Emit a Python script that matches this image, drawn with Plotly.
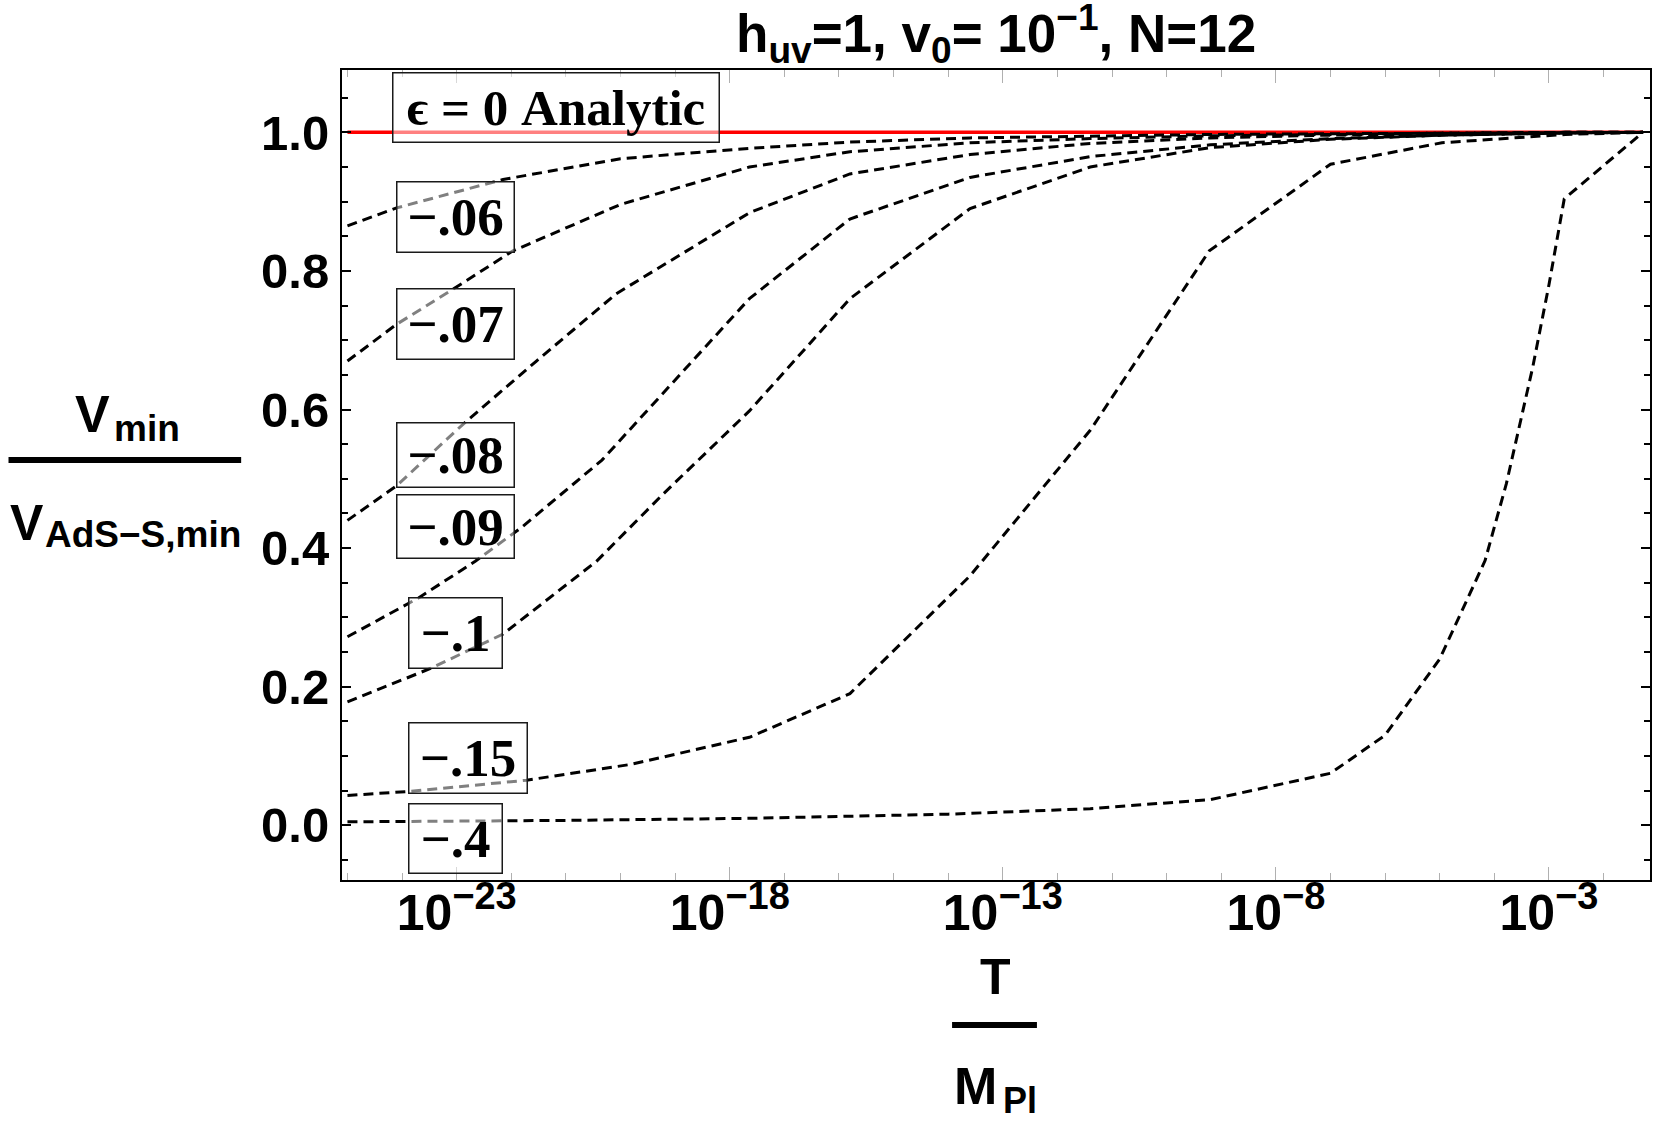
import plotly.graph_objects as go

# ---------------- data (log10(T/M_Pl), V_min/V_AdS-S,min) ----------------
logT_m006 = [-25.0, -24.1, -22.15, -20.0, -17.64, -15.8, -13.6, -11.4, -9.2, -7.0, -4.9, -2.7, -1.28]
v_m006 = [0.865, 0.891, 0.932, 0.962, 0.977, 0.986, 0.992, 0.995, 0.997, 0.998, 0.999, 1.0, 1.0]

logT_m007 = [-25.0, -24.1, -23.12, -21.97, -20.0, -17.64, -15.8, -13.6, -11.4, -9.2, -7.0, -4.9, -2.7, -1.28]
v_m007 = [0.670, 0.723, 0.771, 0.829, 0.896, 0.950, 0.972, 0.985, 0.991, 0.995, 0.997, 0.999, 1.0, 1.0]

logT_m008 = [-25.0, -24.1, -22.88, -21.54, -20.08, -17.64, -15.8, -13.6, -11.4, -9.2, -7.0, -4.9, -2.7, -1.28]
v_m008 = [0.440, 0.490, 0.579, 0.670, 0.767, 0.884, 0.940, 0.968, 0.984, 0.992, 0.996, 0.998, 1.0, 1.0]

logT_m009 = [-25.0, -23.7, -22.66, -21.81, -20.34, -18.75, -17.64, -15.8, -13.6, -11.4, -9.2, -7.0, -4.9, -2.7, -1.28]
v_m009 = [0.272, 0.328, 0.381, 0.430, 0.527, 0.665, 0.760, 0.875, 0.935, 0.965, 0.982, 0.991, 0.996, 0.999, 1.0]

logT_m010 = [-25.0, -23.49, -22.15, -20.44, -19.22, -17.64, -15.8, -13.6, -11.4, -9.2, -7.0, -4.9, -2.7, -1.28]
v_m010 = [0.178, 0.226, 0.276, 0.381, 0.478, 0.598, 0.760, 0.890, 0.950, 0.978, 0.990, 0.996, 0.999, 1.0]

logT_m015 = [-25.0, -23.85, -21.72, -19.8, -17.64, -15.8, -13.6, -11.4, -9.22, -7.0, -4.96, -2.7, -1.28]
v_m015 = [0.043, 0.049, 0.065, 0.088, 0.127, 0.190, 0.360, 0.570, 0.829, 0.954, 0.985, 0.997, 1.0]

logT_m040 = [-25.0, -21.0, -17.64, -14.0, -11.4, -9.2, -7.0, -6.0, -5.0, -4.17, -3.78, -3.3, -3.0, -2.72, -1.28]
v_m040 = [0.005, 0.007, 0.010, 0.016, 0.024, 0.037, 0.075, 0.130, 0.240, 0.382, 0.493, 0.660, 0.780, 0.904, 1.0]

logT_analytic = [-25.0, -1.28]
v_analytic = [1.0, 1.0]

curve_labels = ["\u2212.06", "\u2212.07", "\u2212.08", "\u2212.09", "\u2212.1", "\u2212.15", "\u2212.4"]
analytic_label = "\u03f5 = 0 Analytic"

x_tick_exponents = [-23, -18, -13, -8, -3]
x_tick_labels = ["10<sup><span style=\"font-size:38px\">\u221223</span></sup>",
                 "10<sup><span style=\"font-size:38px\">\u221218</span></sup>",
                 "10<sup><span style=\"font-size:38px\">\u221213</span></sup>",
                 "10<sup><span style=\"font-size:38px\">\u22128</span></sup>",
                 "10<sup><span style=\"font-size:38px\">\u22123</span></sup>"]
y_tick_values = [0.0, 0.2, 0.4, 0.6, 0.8, 1.0]
y_tick_labels = ["0.0", "0.2", "0.4", "0.6", "0.8", "1.0"]

# ---------------- layout geometry (pixels) ----------------
W, H = 1655, 1123
L, R, T, B = 342, 1652, 70, 880


def px(x):
    return (x - L) / (R - L)


def py(y):
    return (B - y) / (B - T)


SANS = "Liberation Sans, Arial, Helvetica, sans-serif"
SERIF = "Liberation Serif, Times New Roman, DejaVu Serif, serif"

fig = go.Figure()

fig.add_trace(go.Scatter(x=[10 ** v for v in logT_analytic], y=v_analytic, mode="lines",
                         line=dict(color="#ff0000", width=3.5), hoverinfo="skip"))

curves = [(logT_m006, v_m006), (logT_m007, v_m007), (logT_m008, v_m008), (logT_m009, v_m009),
          (logT_m010, v_m010), (logT_m015, v_m015), (logT_m040, v_m040)]
for lx, vy in curves:
    fig.add_trace(go.Scatter(x=[10 ** v for v in lx], y=vy, mode="lines",
                             line=dict(color="black", width=3, dash="10px,6px"), hoverinfo="skip"))

annotations = []

# label boxes: (text, log10 x centre, y centre, width, height, font size)
label_boxes = [
    (analytic_label, -21.19, 1.036, 325, 68, 51),
    (curve_labels[0], -23.03, 0.878, 116, 69, 53),
    (curve_labels[1], -23.03, 0.724, 116, 69, 53),
    (curve_labels[2], -23.03, 0.534, 116, 63, 53),
    (curve_labels[3], -23.03, 0.431, 116, 62, 53),
    (curve_labels[4], -23.02, 0.277, 92, 69, 53),
    (curve_labels[5], -22.79, 0.097, 117, 69, 53),
    (curve_labels[6], -23.02, -0.019, 92, 68, 53),
]
for txt, lx, yc, w, h, fs in label_boxes:
    annotations.append(dict(text=txt, x=lx, y=yc, xref="x", yref="y", showarrow=False,
                            xanchor="center", yanchor="middle", width=w, height=h,
                            borderpad=0, borderwidth=1.5, bordercolor="#1a1a1a",
                            bgcolor="rgba(255,255,255,0.5)",
                            font=dict(family=SERIF, size=fs, color="black", weight="bold")))

# title
annotations.append(dict(text="h<sub>uv</sub>=1, v<sub>0</sub>= 10<sup>\u22121</sup>, N=12",
                        x=px(996.5), y=py(34), xref="paper", yref="paper", showarrow=False,
                        xanchor="center", yanchor="middle",
                        font=dict(family=SANS, size=53, color="black", weight="bold")))

# y axis title pieces (fraction)
ytitle_parts = [
    ("V", 73, 413.5, 52),
    ("min", 112, 428, 37),
    ("V", 7, 522.5, 50),
    ("AdS\u2212S,min", 43, 534, 37),
]
for txt, xl, yc, fs in ytitle_parts:
    annotations.append(dict(text=txt, x=px(xl), y=py(yc), xref="paper", yref="paper", showarrow=False,
                            xanchor="left", yanchor="middle",
                            font=dict(family=SANS, size=fs, color="black", weight="bold")))

# x axis title pieces
annotations.append(dict(text="T", x=px(996.5), y=py(976.5), xref="paper", yref="paper", showarrow=False,
                        xanchor="center", yanchor="middle",
                        font=dict(family=SANS, size=50, color="black", weight="bold")))
annotations.append(dict(text="M", x=px(953), y=py(1086), xref="paper", yref="paper", showarrow=False,
                        xanchor="left", yanchor="middle",
                        font=dict(family=SANS, size=52, color="black", weight="bold")))
annotations.append(dict(text="Pl", x=px(1002), y=py(1100.5), xref="paper", yref="paper", showarrow=False,
                        xanchor="left", yanchor="middle",
                        font=dict(family=SANS, size=36, color="black", weight="bold")))

shapes = [
    dict(type="line", xref="paper", yref="paper", x0=px(8), x1=px(241), y0=py(460), y1=py(460),
         line=dict(color="black", width=6)),
    dict(type="line", xref="paper", yref="paper", x0=px(953), x1=px(1038), y0=py(1025), y1=py(1025),
         line=dict(color="black", width=6)),
]

fig.update_layout(
    width=W, height=H,
    margin=dict(l=L, r=W - R, t=T, b=H - B, pad=0),
    paper_bgcolor="white", plot_bgcolor="white",
    showlegend=False,
    annotations=annotations,
    shapes=shapes,
    xaxis=dict(type="log", range=[-25.1, -1.15], showgrid=False, zeroline=False,
               showline=True, linecolor="black", linewidth=2, mirror="allticks",
               ticks="inside", ticklen=13, tickwidth=1, tickcolor="#b0b0b0",
               tickvals=[10.0 ** e for e in x_tick_exponents], ticktext=x_tick_labels,
               tickfont=dict(family=SANS, size=50, color="black", weight="bold"),
               ticklabelstandoff=-12,
               minor=dict(tickvals=[10.0 ** k for k in range(-25, -1)], ticks="inside",
                          ticklen=7, tickwidth=1, tickcolor="#b0b0b0")),
    yaxis=dict(range=[-0.079, 1.09], showgrid=False, zeroline=False,
               showline=True, linecolor="black", linewidth=2, mirror="allticks",
               ticks="inside", ticklen=9, tickwidth=2, tickcolor="black",
               tickvals=y_tick_values, ticktext=y_tick_labels,
               tickfont=dict(family=SANS, size=49, color="black", weight="bold"),
               ticklabelstandoff=1,
               minor=dict(tickvals=[-0.05, 0.05, 0.1, 0.15, 0.25, 0.3, 0.35, 0.45, 0.5, 0.55,
                                    0.65, 0.7, 0.75, 0.85, 0.9, 0.95, 1.05],
                          ticks="inside", ticklen=6, tickwidth=1.5, tickcolor="black")),
)

fig.write_html("out.html")
